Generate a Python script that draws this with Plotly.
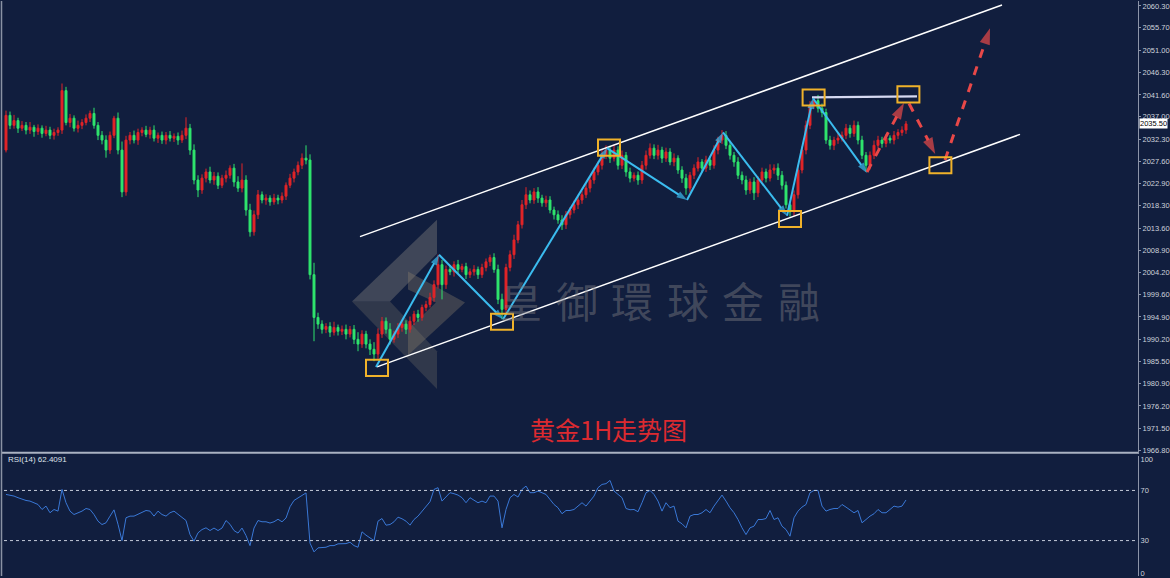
import plotly.graph_objects as go

W, H = 1170, 578

# ---------------- data ----------------
first_open = 2030.0
closes = [
    2037.3, 2035.2, 2036.2, 2034.6, 2035.2, 2034.2, 2034.8, 2033.9, 2034.6, 2033.5,
    2034.2, 2033.1, 2033.7, 2034.2, 2042.5, 2035.8, 2036.7, 2034.6, 2035.2, 2035.8,
    2036.7, 2037.7, 2035.2, 2033.1, 2032.1, 2030.0, 2033.1, 2036.7, 2030.0, 2021.2,
    2032.1, 2033.1, 2032.1, 2033.7, 2034.2, 2033.3, 2034.2, 2032.5, 2033.1, 2032.1,
    2033.1, 2032.5, 2032.9, 2032.1, 2033.1, 2034.6, 2030.0, 2023.7, 2021.6, 2024.1,
    2025.4, 2023.7, 2024.5, 2022.6, 2024.1, 2024.7, 2026.2, 2023.3, 2022.0, 2023.7,
    2017.4, 2012.8, 2016.4, 2020.6, 2019.5, 2019.9, 2019.1, 2019.9, 2019.5, 2020.3,
    2022.6, 2024.1, 2025.4, 2026.8, 2028.3, 2027.9, 2003.8, 1994.8, 1993.4, 1992.3,
    1992.9, 1991.7, 1992.7, 1991.9, 1992.3, 1991.3, 1992.3, 1990.2, 1989.2, 1991.3,
    1989.2, 1988.1, 1987.1, 1991.3, 1994.0, 1992.3, 1990.2, 1991.3, 1992.7, 1993.4,
    1992.3, 1994.0, 1995.5, 1994.8, 1996.9, 1997.5, 1999.0, 2001.7, 2005.9, 2001.7,
    2004.9, 2004.4, 2005.9, 2004.9, 2005.5, 2003.8, 2004.4, 2004.9, 2003.8, 2005.3,
    2006.5, 2007.4, 2004.9, 1998.6, 1996.5, 2005.3, 2008.0, 2011.1, 2014.3, 2018.5,
    2020.6, 2019.5, 2021.2, 2019.9, 2018.9, 2019.5, 2017.4, 2016.4, 2015.3, 2014.3,
    2016.4, 2017.4, 2018.5, 2019.5, 2020.6, 2022.0, 2023.7, 2025.4, 2026.8, 2028.9,
    2030.0, 2028.3, 2030.0, 2026.8, 2028.9, 2025.4, 2024.1, 2024.7, 2023.7, 2026.8,
    2028.9, 2030.4, 2028.9, 2030.0, 2028.3, 2029.6, 2027.5, 2028.3, 2025.8, 2024.1,
    2022.0, 2024.7, 2026.2, 2027.5, 2026.2, 2027.9, 2026.8, 2030.0, 2032.1, 2033.1,
    2031.0, 2028.9, 2027.5, 2024.7, 2023.7, 2021.6, 2023.3, 2021.0, 2023.7, 2025.4,
    2024.1, 2025.8, 2026.2, 2024.7, 2022.6, 2018.5, 2017.0, 2020.6, 2025.8, 2030.0,
    2035.2, 2039.4, 2040.4, 2038.8, 2037.9, 2032.1, 2031.0, 2032.1, 2032.5, 2033.1,
    2034.6, 2033.5, 2035.2, 2032.1, 2028.9, 2026.8, 2028.9, 2031.0, 2032.1, 2031.4,
    2032.5, 2032.1, 2033.1, 2033.7, 2034.2, 2035.5,
]
upper_wick = [
    1.0, 0.8, 1.2, 0.6, 0.9, 0.7, 1.1, 0.5, 0.8, 0.6,
    0.9, 0.7, 0.8, 0.6, 1.5, 0.8, 0.9, 0.6, 1.0, 0.7,
    0.8, 0.6, 1.2, 0.7, 0.9, 1.0, 0.8, 0.5, 1.2, 1.8,
    0.9, 0.7, 1.0, 0.8, 0.6, 0.9, 0.7, 1.0, 0.6, 0.8,
    0.7, 0.9, 0.6, 0.8, 1.0, 2.3, 0.9, 1.2, 1.0, 0.8,
    0.7, 1.1, 0.9, 0.8, 0.7, 1.0, 0.6, 0.9, 1.2, 3.5,
    1.0, 1.3, 0.9, 1.0, 0.7, 0.8, 0.6, 0.9, 0.7, 0.8,
    0.6, 0.9, 0.7, 0.8, 1.0, 2.7, 1.2, 2.5, 1.0, 0.8,
    0.7, 0.9, 1.2, 0.6, 0.8, 1.0, 0.7, 0.9, 1.5, 0.8,
    0.7, 1.0, 1.5, 1.2, 0.9, 0.8, 1.3, 0.7, 0.9, 0.6,
    0.8, 1.0, 0.7, 0.9, 0.6, 0.8, 1.0, 0.9, 2.1, 1.0,
    0.8, 0.9, 0.7, 1.0, 0.6, 0.8, 0.7, 0.9, 0.6, 0.8,
    0.7, 0.6, 0.9, 1.0, 1.2, 0.8, 0.9, 1.1, 0.8, 1.0,
    1.6, 0.9, 0.8, 1.0, 0.7, 0.9, 0.8, 0.7, 0.9, 1.0,
    0.8, 0.6, 0.9, 0.7, 0.8, 1.0, 0.7, 0.9, 0.8, 1.1,
    1.0, 0.9, 1.2, 0.8, 1.0, 0.7, 0.9, 0.6, 0.8, 0.9,
    1.0, 1.0, 0.8, 1.1, 0.7, 0.9, 0.8, 1.0, 0.6, 0.8,
    0.9, 0.7, 0.8, 1.0, 0.6, 0.9, 0.8, 1.0, 0.7, 1.1,
    0.9, 0.8, 0.7, 1.0, 0.8, 0.9, 0.7, 1.0, 0.8, 0.9,
    0.7, 1.2, 0.8, 1.0, 0.9, 0.8, 0.7, 0.9, 1.0, 0.8,
    1.0, 0.9, 0.7, 1.2, 1.0, 0.8, 0.9, 0.7, 1.0, 0.8,
    0.9, 0.7, 1.0, 0.8, 0.9, 0.7, 0.8, 1.0, 0.9, 0.7,
    0.8, 0.6, 0.9, 0.7, 0.8, 0.6,
]
lower_wick = [
    0.5, 0.8, 0.7, 1.0, 0.6, 0.9, 0.8, 1.1, 0.7, 0.9,
    0.6, 0.8, 0.9, 0.7, 0.8, 0.6, 1.0, 0.7, 0.9, 0.8,
    0.6, 0.8, 0.7, 1.0, 0.9, 1.6, 0.8, 0.6, 0.9, 1.1,
    0.8, 0.9, 0.7, 1.0, 0.8, 0.6, 0.9, 0.7, 1.0, 0.8,
    0.9, 0.7, 0.8, 1.0, 0.6, 0.8, 1.0, 0.9, 1.5, 0.8,
    0.9, 0.7, 1.0, 0.8, 0.6, 0.9, 0.7, 1.0, 0.8, 0.9,
    1.2, 1.0, 0.8, 0.9, 0.7, 1.0, 0.8, 0.6, 0.9, 0.7,
    0.8, 0.6, 0.9, 0.7, 0.8, 0.9, 1.0, 5.0, 1.0, 0.9,
    0.8, 1.0, 0.7, 0.9, 0.8, 1.1, 0.7, 1.0, 1.5, 0.8,
    0.9, 1.2, 1.5, 1.0, 0.8, 0.9, 1.1, 0.7, 0.8, 0.9,
    1.0, 0.7, 0.8, 0.9, 0.7, 0.8, 0.6, 0.9, 0.8, 3.1,
    0.9, 0.7, 1.0, 0.8, 0.6, 0.9, 0.7, 0.8, 0.9, 0.7,
    0.8, 0.9, 0.7, 1.0, 2.1, 1.0, 0.8, 0.9, 0.7, 0.8,
    0.9, 0.7, 0.8, 1.0, 0.8, 0.9, 0.7, 1.0, 0.8, 1.1,
    0.9, 0.8, 0.7, 0.9, 0.8, 0.7, 0.9, 0.8, 0.7, 0.9,
    0.8, 1.0, 0.7, 0.9, 0.8, 1.0, 0.9, 0.7, 1.0, 0.8,
    0.9, 0.7, 0.8, 0.9, 1.0, 0.8, 0.7, 0.9, 0.8, 1.0,
    1.4, 0.9, 0.8, 0.7, 0.9, 0.8, 1.0, 0.7, 0.9, 0.8,
    0.8, 0.9, 1.0, 0.8, 0.9, 1.0, 0.8, 1.5, 0.9, 0.8,
    0.9, 0.7, 0.8, 1.0, 0.9, 0.8, 1.0, 0.9, 0.8, 0.7,
    0.9, 0.8, 0.7, 0.9, 1.0, 0.8, 0.9, 1.0, 0.8, 0.7,
    0.8, 0.9, 0.7, 0.9, 0.8, 1.4, 0.9, 0.8, 0.7, 0.9,
    0.8, 0.7, 0.9, 0.8, 0.7, 0.8,
]
rsi = [
    66.8, 66.3, 65.5, 64.2, 62.8, 62.0, 61.5, 60.2, 58.8, 54.8,
    57.5, 52.2, 54.8, 53.5, 70.8, 60.2, 53.5, 50.8, 52.2, 53.5,
    55.6, 54.8, 50.8, 45.5, 42.8, 44.2, 49.5, 54.5, 43.0, 30.0,
    48.2, 49.5, 49.5, 50.8, 52.2, 54.0, 53.5, 49.5, 53.5, 50.8,
    49.5, 52.2, 53.5, 50.8, 48.0, 46.0, 34.8, 29.5, 36.2, 38.8,
    40.2, 38.0, 40.0, 38.0, 40.0, 46.0, 43.0, 38.0, 36.0, 40.0,
    34.0, 26.0, 40.0, 46.0, 45.0, 45.0, 44.0, 45.0, 47.0, 45.0,
    48.0, 57.0, 62.0, 64.0, 65.5, 68.0, 28.0, 21.0, 24.2, 24.2,
    24.7, 26.0, 26.0, 27.4, 27.4, 27.6, 28.7, 26.0, 24.7, 37.0,
    34.3, 32.2, 30.0, 45.5, 47.6, 42.3, 42.8, 45.0, 48.7, 47.4,
    45.5, 42.3, 46.8, 49.5, 53.5, 57.5, 61.0, 70.8, 72.2, 61.5,
    64.7, 68.2, 67.4, 66.3, 64.2, 60.2, 64.2, 62.0, 60.2, 61.5,
    60.2, 65.5, 65.5, 61.5, 40.2, 54.8, 64.2, 66.8, 64.7, 70.8,
    73.5, 68.2, 68.2, 69.5, 68.2, 66.8, 62.8, 58.8, 56.2, 51.4,
    54.0, 54.0, 54.8, 57.5, 60.2, 57.5, 61.5, 65.5, 72.2, 74.8,
    75.4, 78.0, 69.5, 66.8, 64.2, 55.6, 54.6, 54.8, 53.0, 60.2,
    68.2, 70.0, 66.8, 61.5, 53.5, 60.2, 56.2, 57.5, 45.5, 43.4,
    40.2, 49.5, 50.8, 50.8, 52.2, 54.8, 52.2, 57.5, 61.5, 66.3,
    61.5, 56.2, 52.2, 46.8, 40.2, 34.8, 40.2, 41.5, 46.8, 46.8,
    47.6, 54.0, 46.8, 48.2, 41.5, 38.8, 33.5, 48.2, 53.5, 56.7,
    58.8, 68.2, 70.0, 70.0, 57.5, 53.5, 54.8, 55.6, 55.6, 58.8,
    56.7, 54.8, 52.2, 54.0, 44.2, 46.8, 49.5, 51.4, 54.8, 52.2,
    52.2, 54.8, 57.5, 56.7, 57.5, 62.4,
]
rsi_last_text = "RSI(14) 62.4091"
last_price_text = "2035.50"

price_tick_vals = [2060.30, 2055.70, 2051.00, 2046.30, 2041.60, 2037.00, 2032.30,
                   2027.60, 2022.90, 2018.30, 2013.60, 2008.90, 2004.20, 1999.60,
                   1994.90, 1990.20, 1985.50, 1980.90, 1976.20, 1971.50, 1966.80]
rsi_levels = [70, 30]
rsi_tick_vals = [95.0, 70, 30, 4]
rsi_tick_text = ["100", "70", "30", "0"]

# drawn analysis (bar index, price)
zig_idx = [92.5, 108.25, 124.25, 150.25, 170.25, 179.25, 195.25, 201.75, 215.25]
zig_price = [1984.4, 2008.0, 1994.4, 2030.4, 2019.5, 2033.7, 2016.2, 2040.9, 2025.2]
chan_up_idx, chan_up_price = [88.5, 249.0], [2011.8, 2060.5]
chan_lo_idx, chan_lo_price = [92.75, 253.5], [1984.4, 2033.3]
res_idx, res_price = [201.5, 227.75], [2041.1, 2041.3]
fc_idx = [[215.25, 224.5], [225.75, 232.3], [234.75, 246.0]]
fc_price = [[2025.4, 2039.9], [2039.8, 2029.2], [2027.9, 2055.6]]
box_idx = [92.75, 124.0, 150.75, 196.0, 201.9, 225.6, 233.6]
box_price = [1984.2, 1993.9, 2030.5, 2015.5, 2041.05, 2041.7, 2026.8]

watermark_chars = ["皇", "御", "環", "球", "金", "融"]
title_text = "黄金1H走势图"

# ---------------- derived ----------------
n = len(closes)
xs = list(range(n))
opens = [first_open] + closes[:-1]
highs = [max(o, c) + u for o, c, u in zip(opens, closes, upper_wick)]
lows = [min(o, c) - d for o, c, d in zip(opens, closes, lower_wick)]

BG = "#111e3e"
RED = "#e02428"
GREEN = "#2fe36c"
BLUE = "#3bbcef"
FC = "#e84848"
ORANGE = "#f0b22a"
AXC = "#8c94a8"
TXT = "#cdd2dc"


def px(x):
    return x / W


def py(y):
    return 1 - y / H


fig = go.Figure()

fig.add_trace(go.Candlestick(
    x=xs, open=opens, high=highs, low=lows, close=closes,
    increasing=dict(line=dict(color=RED, width=1), fillcolor=RED),
    decreasing=dict(line=dict(color=GREEN, width=1), fillcolor=GREEN),
    whiskerwidth=0, showlegend=False, hoverinfo="skip",
    xaxis="x", yaxis="y",
))

# channel lines
for ix, pr in [(chan_up_idx, chan_up_price), (chan_lo_idx, chan_lo_price)]:
    fig.add_trace(go.Scatter(x=ix, y=pr, mode="lines",
                             line=dict(color="white", width=1.5),
                             showlegend=False, hoverinfo="skip"))

# resistance line
fig.add_trace(go.Scatter(x=res_idx, y=res_price, mode="lines",
                         line=dict(color="#d6daf2", width=2.2),
                         showlegend=False, hoverinfo="skip"))

# blue zigzag with arrow heads
fig.add_trace(go.Scatter(
    x=zig_idx, y=zig_price, mode="lines+markers",
    line=dict(color=BLUE, width=2),
    marker=dict(symbol="arrow", size=[0] + [11] * (len(zig_idx) - 1),
                angleref="previous", color=BLUE, line=dict(width=0)),
    showlegend=False, hoverinfo="skip"))

# red dashed forecast arrows
for ix, pr in zip(fc_idx, fc_price):
    fig.add_trace(go.Scatter(
        x=ix, y=pr, mode="lines+markers",
        line=dict(color=FC, width=3, dash="dash"),
        marker=dict(symbol="arrow", size=[0, 17], angleref="previous",
                    color=FC, line=dict(width=0)),
        showlegend=False, hoverinfo="skip"))

# RSI
fig.add_trace(go.Scatter(x=xs, y=rsi, mode="lines",
                         line=dict(color="#3a78d6", width=1),
                         showlegend=False, hoverinfo="skip",
                         xaxis="x2", yaxis="y2"))

shapes = []
# orange boxes
BW, BH = 2.75, 1.7
for bx, bp in zip(box_idx, box_price):
    shapes.append(dict(type="rect", xref="x", yref="y",
                       x0=bx - BW, x1=bx + BW, y0=bp - BH, y1=bp + BH,
                       line=dict(color=ORANGE, width=2), fillcolor="rgba(0,0,0,0)"))
# RSI levels
for lv in rsi_levels:
    shapes.append(dict(type="line", xref="paper", yref="y2",
                       x0=px(4), x1=px(1138), y0=lv, y1=lv,
                       line=dict(color="#c4cad8", width=1, dash="dot")))
# panel separator and left border
shapes.append(dict(type="line", xref="paper", yref="paper",
                   x0=px(2), x1=px(1138), y0=py(454), y1=py(454),
                   line=dict(color="#aab2c2", width=2), layer="above"))
shapes.append(dict(type="line", xref="paper", yref="paper",
                   x0=px(1.5), x1=px(1.5), y0=0, y1=1,
                   line=dict(color="#8a92a4", width=1.5), layer="above"))


# logo (decorative watermark) in pixel-derived paper coordinates
def poly(points, color):
    d = "M " + " L ".join(f"{px(a):.5f},{py(b):.5f}" for a, b in points) + " Z"
    return dict(type="path", xref="paper", yref="paper", path=d,
                fillcolor=color, line=dict(width=0), layer="below")


shapes.append(poly([(437, 220), (437, 254), (390, 302), (352, 302)], "rgba(120,120,120,0.45)"))
shapes.append(poly([(352, 302), (390, 302), (437, 352), (437, 390)], "rgba(95,95,95,0.40)"))
shapes.append(poly([(408, 272), (465, 303), (408, 356), (408, 330), (436, 303), (408, 290)],
                   "rgba(140,130,110,0.35)"))

annotations = []
# watermark text
for k, ch in enumerate(watermark_chars):
    annotations.append(dict(xref="paper", yref="paper", x=px(521 + 55.5 * k), y=py(300),
                            xanchor="center", yanchor="middle",
                            text=ch, showarrow=False,
                            font=dict(family="Noto Sans CJK TC", size=42,
                                      color="rgba(125,125,130,0.45)")))
# title
annotations.append(dict(xref="paper", yref="paper", x=px(608), y=py(430), text=title_text,
                        xanchor="center", yanchor="middle", showarrow=False,
                        font=dict(family="Noto Sans CJK SC", size=25, color="#dc2a30")))
# RSI label
annotations.append(dict(xref="paper", yref="paper", x=px(6), y=py(461), xanchor="left",
                        yanchor="middle", text=rsi_last_text, showarrow=False,
                        font=dict(family="Liberation Sans", size=8, color="#dfe3ea")))
# current price label
annotations.append(dict(xref="paper", yref="y", x=px(1139), y=closes[-1], xanchor="left",
                        yanchor="middle", text=last_price_text, showarrow=False,
                        bgcolor="white", borderpad=0,
                        font=dict(family="Liberation Sans", size=7.5, color="#000000")))

xdom = [px(4), px(1138)]
xr = [-0.5, 283.0]

fig.update_layout(
    width=W, height=H,
    margin=dict(l=0, r=0, t=0, b=0),
    paper_bgcolor=BG, plot_bgcolor=BG,
    showlegend=False,
    xaxis=dict(domain=xdom, range=xr, visible=False, rangeslider=dict(visible=False),
               anchor="y", fixedrange=True),
    yaxis=dict(domain=[py(455), 1], range=[1966.16, 2061.35], side="right", anchor="x",
               showgrid=False, zeroline=False, showline=True, linecolor=AXC, linewidth=1,
               ticks="outside", ticklen=2, tickcolor=AXC,
               tickvals=price_tick_vals, ticktext=[f"{v:.2f}" for v in price_tick_vals],
               tickfont=dict(family="Liberation Sans", size=7.5, color=TXT)),
    xaxis2=dict(domain=xdom, range=xr, visible=False, anchor="y2", fixedrange=True),
    yaxis2=dict(domain=[0, py(457)], range=[1.76, 97.76], side="right", anchor="x2",
                showgrid=False, zeroline=False, showline=True, linecolor=AXC, linewidth=1,
                ticks="", tickvals=rsi_tick_vals, ticktext=rsi_tick_text,
                tickfont=dict(family="Liberation Sans", size=7.5, color=TXT)),
    shapes=shapes,
    annotations=annotations,
)

fig.write_html("out.html")
